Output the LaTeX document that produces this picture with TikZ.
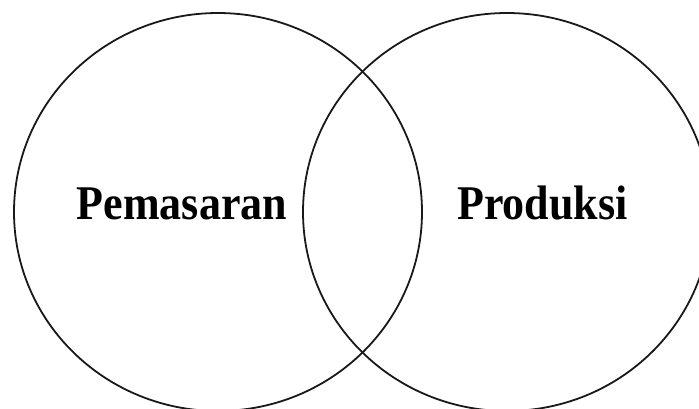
\documentclass[tikz,border=0pt]{standalone}
\usepackage{fontspec}
\setmainfont{Liberation Serif}
\begin{document}
\begin{tikzpicture}[x=1pt,y=-1pt,
  set/.style={draw=black!90,line width=1.8pt},
  lbl/.style={font=\fontsize{44}{50}\selectfont\bfseries,anchor=base,inner sep=0pt,yscale=1.1}]
\useasboundingbox (0,0) rectangle (699,408);
\draw[set] (218,212) ellipse [x radius=204, y radius=199];
\draw[set] (507,212) ellipse [x radius=204, y radius=199];
\node[lbl] (pem) at (182,219) {Pemasaran};
\node[lbl] (pro) at (542.5,219) {Produksi};
\end{tikzpicture}
\end{document}
